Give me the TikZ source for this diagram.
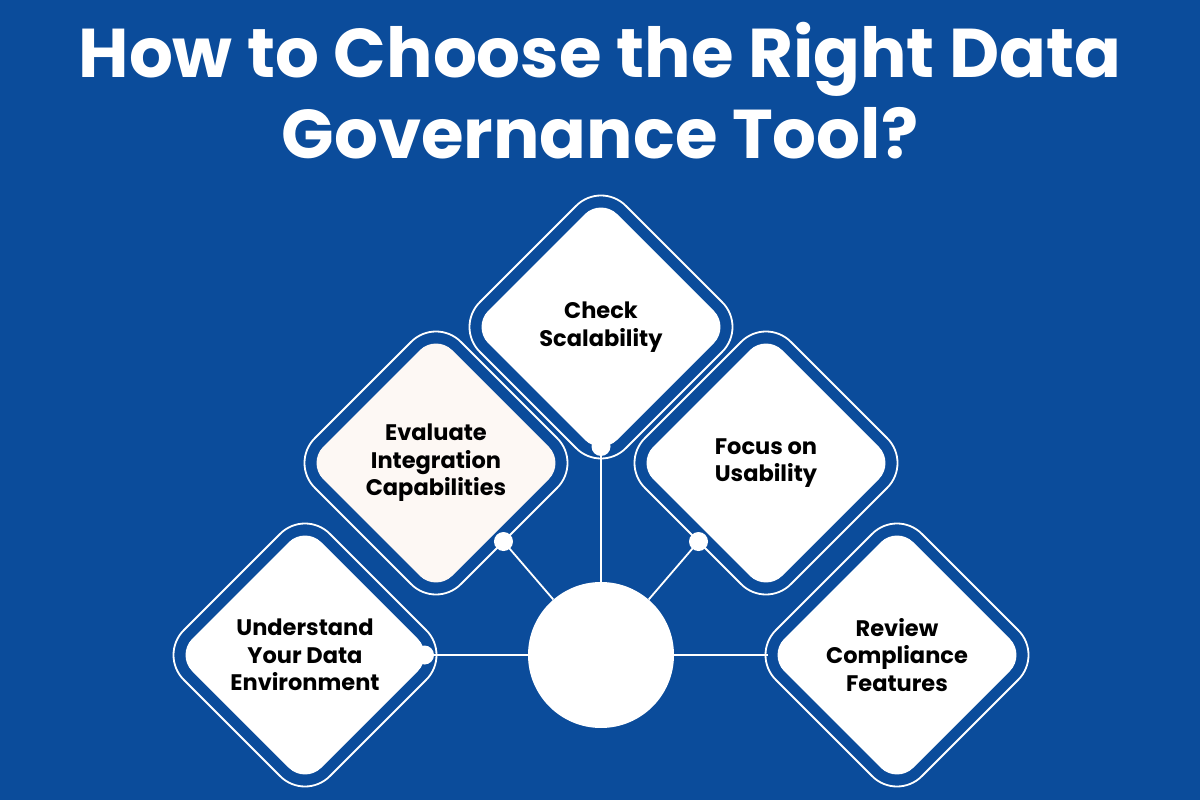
\documentclass[tikz,border=0pt]{standalone}
\usepackage{fontspec}
\setmainfont{Poppins}
\usetikzlibrary{shapes.geometric,positioning}
\definecolor{govblue}{HTML}{0B4C9B}
\definecolor{cream}{HTML}{FDF8F4}

\begin{document}
\begin{tikzpicture}[x=1pt,y=-1pt,on grid,
  card/.style={diamond,aspect=1,minimum size=258pt,inner sep=0pt,outer sep=0pt,rounded corners=23pt,fill=white,align=center,text=black,font=\fontsize{22.5}{27.5}\selectfont\bfseries},
  ring/.style={diamond,aspect=1,minimum size=292pt,inner sep=0pt,outer sep=0pt,rounded corners=35pt,draw=white,line width=1.8pt},
  link/.style={draw=white,line width=1.8pt},
  knob/.style={circle,fill=white,minimum size=19pt,inner sep=0pt},
  title/.style={text=white,anchor=base,font=\fontsize{69}{82}\selectfont\bfseries}]
	\fill[govblue] (0,0) rectangle (1200,800);
	\node[title] (title_a) at (600,78) {How to Choose the Right Data};
	\node[title] (title_b) at (600,159) {Governance Tool?};

	\node[circle,fill=white,minimum size=146pt,inner sep=0pt] (hub) at (601,655) {};
	\node[card] (und) [left=296pt of hub] {Understand\\Your Data\\Environment};
	\node[card,fill=cream] (eval) [above left=192pt and 165pt of hub] {Evaluate\\Integration\\Capabilities};
	\node[card] (scal) [above=328pt of hub] {Check\\Scalability};
	\node[card] (focus) [above right=192pt and 165pt of hub] {Focus on\\Usability};
	\node[card] (rev) [right=296pt of hub] {Review\\Compliance\\Features};
	\foreach \n in {und,eval,scal,focus,rev}
		\node[ring] (\n_r) at (\n) {};

	\draw[link] (hub) -- (und);
	\draw[link] (hub) -- (scal);
	\draw[link] (hub) -- (rev);
	\draw[link] (hub) -- (eval_r) node[knob,pos=1] (eval_k) {};
	\draw[link] (hub) -- (focus_r) node[knob,pos=1] (focus_k) {};
	\node[knob] (und_k) at ([xshift=-9.5pt]und.east) {};
	\node[knob] (scal_k) at ([yshift=9.5pt]scal.south) {};
\end{tikzpicture}
\end{document}
